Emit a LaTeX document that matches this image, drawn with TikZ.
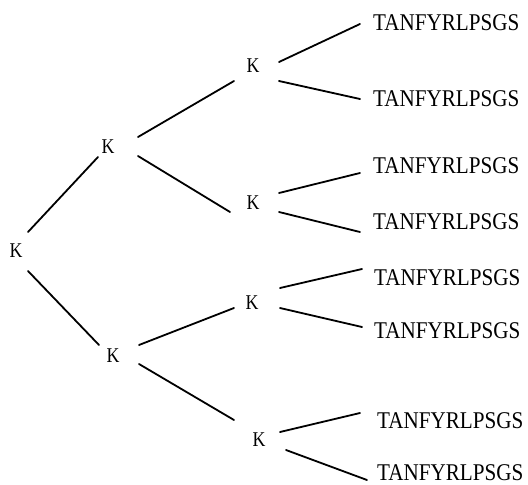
\documentclass[tikz,border=0pt]{standalone}
\usepackage{fontspec}
\setmainfont{Liberation Serif}
\begin{document}
\begin{tikzpicture}[x=1pt,y=-1pt,
  knode/.style={inner sep=0pt, anchor=center, font=\fontsize{21}{21}\selectfont},
  leaf/.style={inner sep=0pt, anchor=west, font=\fontsize{24}{24}\selectfont},
  edge/.style={line width=1.8pt, line cap=round}]
\useasboundingbox (0,0) rectangle (528,485);
\newcommand{\kk}{\scalebox{0.85}[1]{K}}
\newcommand{\seq}{\scalebox{0.88}[1]{TANFYRLPSGS}}
% internal nodes
\node[knode] (r)  at (16,251)  {\kk};
\node[knode] (a)  at (108,147) {\kk};
\node[knode] (b)  at (113,356) {\kk};
\node[knode] (aa) at (253,66)  {\kk};
\node[knode] (ab) at (253,203) {\kk};
\node[knode] (ba) at (252,303) {\kk};
\node[knode] (bb) at (259,440) {\kk};
% leaves
\node[leaf] (l1) at (373,23)  {\seq};
\node[leaf] (l2) at (373,99)  {\seq};
\node[leaf] (l3) at (373,166) {\seq};
\node[leaf] (l4) at (373,222) {\seq};
\node[leaf] (l5) at (374,278) {\seq};
\node[leaf] (l6) at (374,331) {\seq};
\node[leaf] (l7) at (377,421) {\seq};
\node[leaf] (l8) at (377,473) {\seq};
% branches
\draw[edge] ([shift={(12,-19)}]r.center) -- ([shift={(-10,10)}]a.center);
\draw[edge] ([shift={(12,20)}]r.center) -- ([shift={(-14,-11)}]b.center);
\draw[edge] ([shift={(30,-10)}]a.center) -- ([shift={(-19,15)}]aa.center);
\draw[edge] ([shift={(30,9)}]a.center) -- ([shift={(-23,9)}]ab.center);
\draw[edge] ([shift={(26,-11)}]b.center) -- ([shift={(-18,5)}]ba.center);
\draw[edge] ([shift={(26,8)}]b.center) -- ([shift={(-25,-20)}]bb.center);
\draw[edge] ([shift={(26,-4)}]aa.center) -- ([shift={(-13,1)}]l1.west);
\draw[edge] ([shift={(26,15)}]aa.center) -- ([shift={(-13,0)}]l2.west);
\draw[edge] ([shift={(26,-10)}]ab.center) -- ([shift={(-13,7)}]l3.west);
\draw[edge] ([shift={(26,9)}]ab.center) -- ([shift={(-13,10)}]l4.west);
\draw[edge] ([shift={(28,-15)}]ba.center) -- ([shift={(-12,-9)}]l5.west);
\draw[edge] ([shift={(28,5)}]ba.center) -- ([shift={(-12,-4)}]l6.west);
\draw[edge] ([shift={(21,-8)}]bb.center) -- ([shift={(-17,-8)}]l7.west);
\draw[edge] ([shift={(27,10)}]bb.center) -- ([shift={(-10,7)}]l8.west);
\end{tikzpicture}
\end{document}
